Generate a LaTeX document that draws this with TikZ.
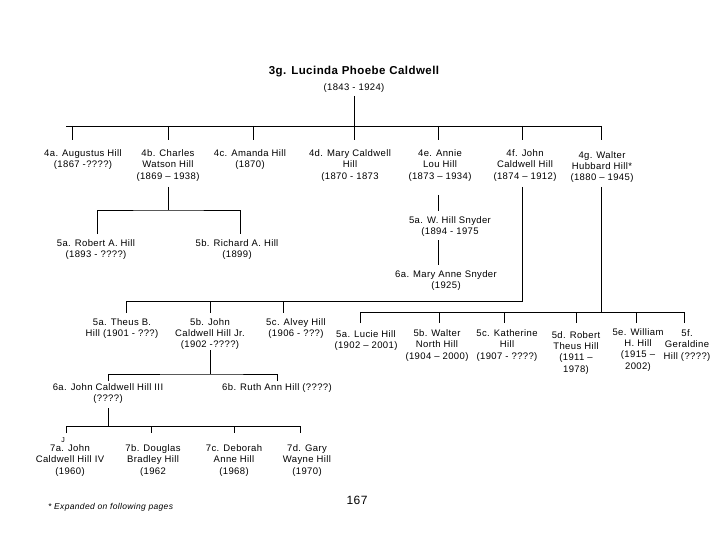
\documentclass[tikz,border=0pt]{standalone}
\usepackage{fontspec}
\setmainfont{Liberation Sans}[LetterSpace=4]
\newcommand\persfont{\fontsize{9.5}{11.4}\selectfont}
\begin{document}
\begin{tikzpicture}[x=1pt,y=-1pt,
  person/.style={font=\persfont, align=center, inner sep=0pt, anchor=north},
  link/.style={line width=0.8pt, draw=black}]
\fill[white] (0,0) rectangle (720,540);
\useasboundingbox (0,0) rectangle (720,540);

% title
\node[anchor=base, inner sep=0pt, font=\fontsize{11.5}{13}\selectfont\bfseries] (n3g) at (354,75) {3g. Lucinda Phoebe Caldwell};
\node[anchor=base, inner sep=0pt, font=\persfont] (d3g) at (354,90.5) {(1843 - 1924)};

% generation 4
\node[person] (n4a) at (83,149.5) {4a. Augustus Hill\\(1867 -????)};
\node[person] (n4b) at (168,149.5) {4b. Charles\\Watson Hill\\(1869 -- 1938)};
\node[person] (n4c) at (250,149.5) {4c. Amanda Hill\\(1870)};
\node[person] (n4d) at (350,149.5) {4d. Mary Caldwell\\Hill\\(1870 - 1873};
\node[person] (n4e) at (440,149.5) {4e. Annie\\Lou Hill\\(1873 -- 1934)};
\node[person] (n4f) at (525,149.5) {4f. John\\Caldwell Hill\\(1874 -- 1912)};
\node[person] (n4g) at (602,151) {4g. Walter\\Hubbard Hill*\\(1880 -- 1945)};

% children of 4b
\node[person] (n5rob) at (96,239.5) {5a. Robert A. Hill\\(1893 - ????)};
\node[person] (n5ric) at (237,239.5) {5b. Richard A. Hill\\(1899)};

% children of 4e
\node[person] (n5sny) at (450,216.5) {5a. W. Hill Snyder\\(1894 - 1975};
\node[person] (n6sny) at (446,270.5) {6a. Mary Anne Snyder\\(1925)};

% children of 4f
\node[person] (n5the) at (122,318) {5a. Theus B.\\Hill (1901 - ???)};
\node[person] (n5joh) at (210,318) {5b. John\\Caldwell Hill Jr.\\(1902 -????)};
\node[person] (n5alv) at (296,318) {5c. Alvey Hill\\(1906 - ???)};

% children of 4g
\node[person] (n5luc) at (366,330) {5a. Lucie Hill\\(1902 -- 2001)};
\node[person] (n5wal) at (437,329.5) {5b. Walter\\North Hill\\(1904 -- 2000)};
\node[person] (n5kat) at (507,329.5) {5c. Katherine\\Hill\\(1907 - ????)};
\node[person] (n5rbt) at (576,331) {5d. Robert\\Theus Hill\\(1911 --\\1978)};
\node[person] (n5wil) at (638,328) {5e. William\\H. Hill\\(1915 --\\2002)};
\node[person] (n5ger) at (687,329.5) {5f.\\Geraldine\\Hill (????)};

% children of 5b John
\node[person] (n6joh) at (108,383.5) {6a. John Caldwell Hill III\\(????)};
\node[person] (n6rut) at (277,383.5) {6b. Ruth Ann Hill (????)};

% children of 6a John
\node[person] (n7a) at (70,444.5) {7a. John\\Caldwell Hill IV\\(1960)};
\node[person] (n7b) at (153,444.5) {7b. Douglas\\Bradley Hill\\(1962};
\node[person] (n7c) at (234,444.5) {7c. Deborah\\Anne Hill\\(1968)};
\node[person] (n7d) at (307,444.5) {7d. Gary\\Wayne Hill\\(1970)};
\node[anchor=base, inner sep=0pt, font=\fontsize{7}{8}\selectfont] (jmark) at (63,442) {J};

\node[anchor=base, inner sep=0pt, font=\fontsize{12}{14}\selectfont] (page) at (357,504) {167};
\node[anchor=base west, inner sep=0pt, font=\fontsize{8.5}{10}\selectfont\itshape] (note) at (48,509) {* Expanded on following pages};

% ---- connectors ----
\coordinate (t0) at (354,96);
\coordinate (bar4L) at (66,126);
\coordinate (bar4R) at (601,126);
\draw[link] (t0) -- (t0 |- bar4L);
\draw[link] (bar4L) -- (bar4R);
\foreach \x in {72,168,253,354,438,522,601}
  \draw[link] (\x,126) -- (\x,140);

% 4b -> 5a,5b
\coordinate (b4b) at (168,187);
\coordinate (h4b) at (168,210);
\draw[link] (b4b) -- (h4b);
\draw[link] (97,234) |- (h4b) -| (240,234);

% 4e -> 5a Snyder -> 6a
\coordinate (b4e) at (438,195);
\draw[link] (b4e) -- (438,211);
\draw[link] (438,240) -- (438,265);

% 4f -> 5a,5b,5c
\coordinate (b4f) at (522,187);
\coordinate (h4f) at (522,301);
\draw[link] (b4f) -- (h4f) -- (126,301) -- (126,313);
\draw[link] (210,301) -- (210,313);
\draw[link] (283,301) -- (283,313);

% 4g -> 5a..5f
\coordinate (b4g) at (601,187);
\coordinate (h4g) at (601,312);
\draw[link] (b4g) -- (h4g);
\draw[link] (360,323) |- (684,312) -- (684,323);
\foreach \x in {439,504,576,636}
  \draw[link] (\x,312) -- (\x,323);

% 5b John -> 6a,6b
\coordinate (b5j) at (210,350);
\coordinate (h5j) at (210,374);
\draw[link] (b5j) -- (h5j);
\draw[link] (108,381) |- (h5j) -| (277,381);

% 6a John -> 7a..7d
\coordinate (b6j) at (108,408);
\coordinate (h6j) at (108,426);
\draw[link] (b6j) -- (h6j);
\draw[link] (66,433) |- (300,426) -- (300,433);
\draw[link] (151,426) -- (151,433);
\draw[link] (234,426) -- (234,433);
\end{tikzpicture}
\end{document}
